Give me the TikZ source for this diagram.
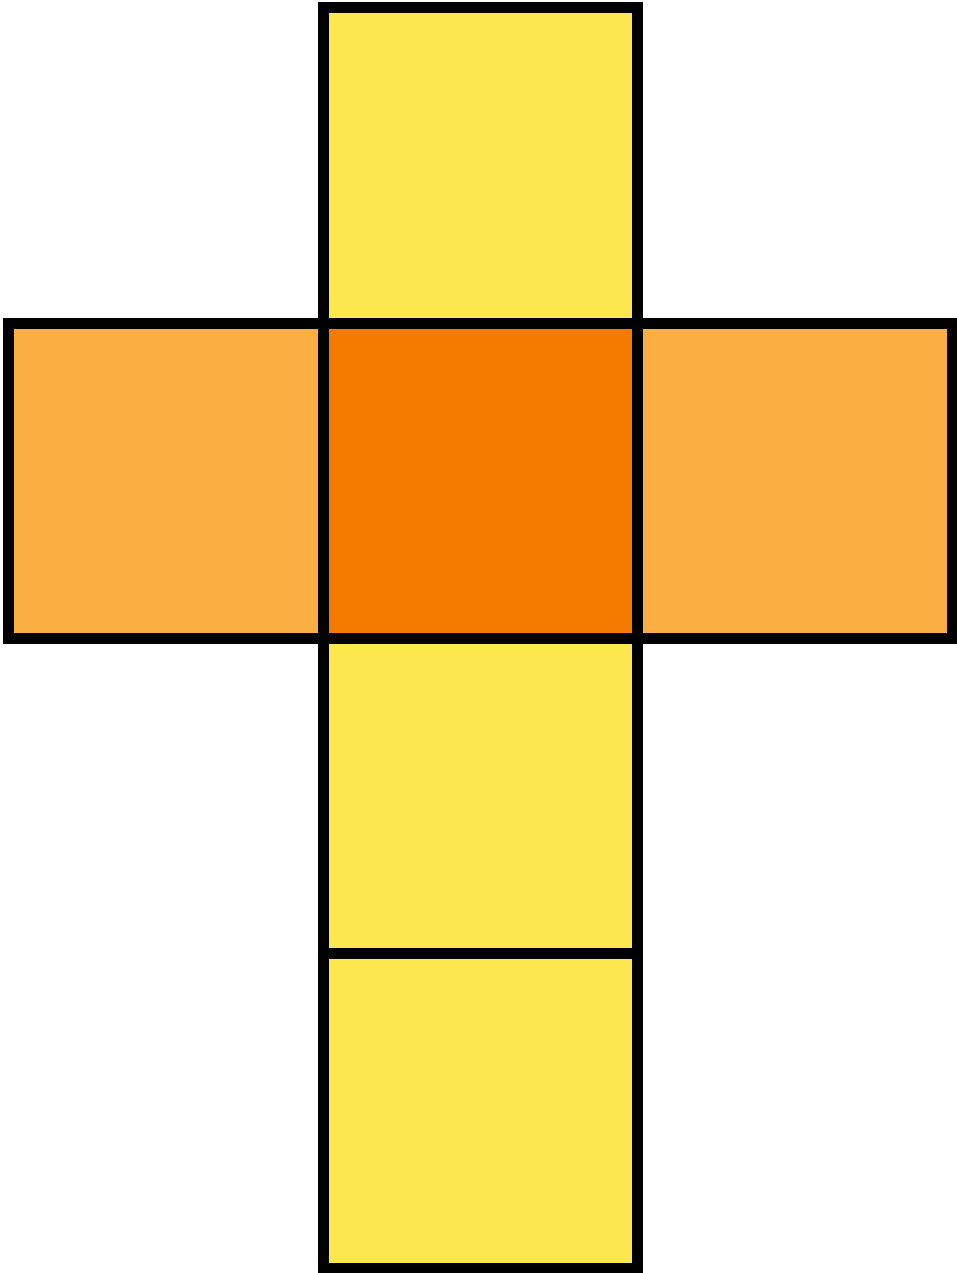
\documentclass[tikz,border=0pt]{standalone}
\definecolor{faceyellow}{HTML}{FDE74F}
\definecolor{facelight}{HTML}{FBAE42}
\definecolor{facedark}{HTML}{F47B00}
\tikzset{face/.style={draw=black, line width=11pt, line join=miter}}
\begin{document}
\begin{tikzpicture}[x=1pt,y=-1pt]
\useasboundingbox (0,0) rectangle (956,1273);
\filldraw[face, fill=faceyellow] (323,7.5) rectangle (637.5,323);
\filldraw[face, fill=facelight] (8,323) rectangle (323,638);
\filldraw[face, fill=facelight] (637.5,323) rectangle (952,638);
\filldraw[face, fill=faceyellow] (323,638) rectangle (637.5,953.5);
\filldraw[face, fill=faceyellow] (323,953.5) rectangle (637.5,1268);
\filldraw[face, fill=facedark] (323,323) rectangle (637.5,638);
\end{tikzpicture}
\end{document}
